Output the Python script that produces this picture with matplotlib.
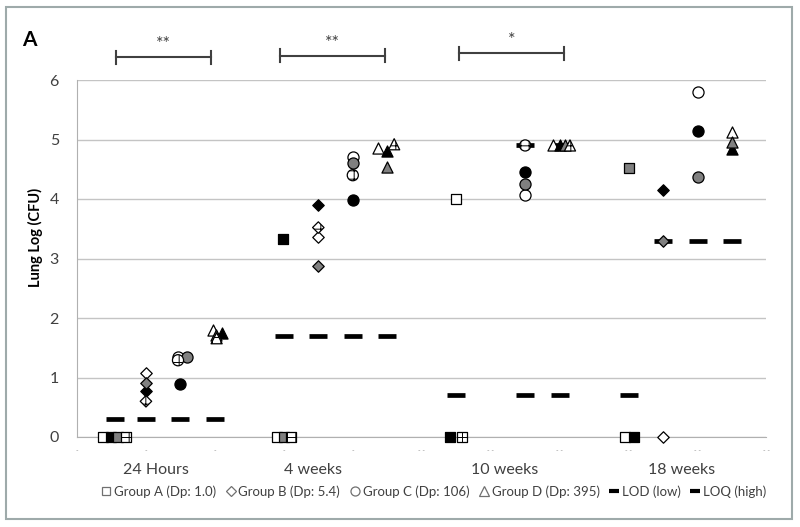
import matplotlib
matplotlib.use("Agg")
import matplotlib.pyplot as plt
from matplotlib.lines import Line2D
from matplotlib.patches import Rectangle

plt.rcParams['font.family'] = ['Lato', 'DejaVu Sans']
plt.rcParams['hatch.linewidth'] = 0.7
plt.rcParams['hatch.color'] = 'black'

# ---------------- data ----------------
time_labels = ["24 Hours", "4 weeks", "10 weeks", "18 weeks"]
time_label_x = [2.3, 6.85, 12.4, 17.55]

group_labels = ["Group A (Dp: 1.0)", "Group B (Dp: 5.4)", "Group C (Dp: 106)", "Group D (Dp: 395)"]
lod_label = "LOD (low)"
loq_label = "LOQ (high)"

# fill codes: w = open, k = black, g = gray, h = hatched
groupA_x = [0.75, 0.98, 1.2, 1.42, 5.8, 5.98, 6.0, 6.2, 11.0, 10.82, 11.17, 15.9, 16.15, 16.0]
groupA_y = [0, 0, 0, 0, 0, 3.32, 0, 0, 4.0, 0, 0, 0, 0, 4.52]
groupA_f = ['w', 'k', 'g', 'h', 'w', 'k', 'g', 'h', 'w', 'k', 'h', 'w', 'k', 'g']

groupB_x = [2.0, 2.0, 2.0, 2.0, 7.0, 7.0, 7.0, 7.0, 17.0, 17.0, 17.0]
groupB_y = [1.08, 0.77, 0.90, 0.60, 3.36, 3.90, 2.87, 3.52, 0.0, 4.15, 3.30]
groupB_f = ['w', 'k', 'g', 'h', 'w', 'k', 'g', 'h', 'w', 'k', 'g']

groupC_x = [2.93, 2.99, 3.19, 2.93, 8.0, 8.0, 8.0, 8.0, 13.0, 13.0, 13.0, 13.0, 18.0, 18.0, 18.0]
groupC_y = [1.35, 0.89, 1.34, 1.29, 4.71, 3.98, 4.60, 4.40, 4.06, 4.46, 4.25, 4.90, 5.79, 5.15, 4.37]
groupC_f = ['w', 'k', 'g', 'h', 'w', 'k', 'g', 'h', 'w', 'k', 'g', 'h', 'w', 'k', 'g']

groupD_x = [3.95, 4.2, 4.03, 4.05, 8.74, 9.0, 9.0, 9.2, 13.8, 14.0, 14.15, 14.3, 19.0, 19.0, 19.0]
groupD_y = [1.80, 1.75, 1.71, 1.66, 4.85, 4.80, 4.53, 4.92, 4.90, 4.90, 4.90, 4.90, 5.13, 4.84, 4.96]
groupD_f = ['w', 'k', 'g', 'h', 'w', 'k', 'g', 'h', 'w', 'k', 'g', 'h', 'w', 'k', 'g']

lod_x = [1.1, 2, 3, 4, 6, 7, 8, 9, 11, 13, 14, 16]
lod_y = [0.3, 0.3, 0.3, 0.3, 1.7, 1.7, 1.7, 1.7, 0.7, 0.7, 0.7, 0.7]
loq_x = [13, 14, 17, 18, 19]
loq_y = [4.9, 4.9, 3.3, 3.3, 3.3]

sig_x1 = [1.14, 5.88, 11.08]
sig_x2 = [3.89, 8.93, 14.13]
sig_y = [6.38, 6.41, 6.45]
sig_text = ["**", "**", "*"]

y_ticks = [0, 1, 2, 3, 4, 5, 6]
x_ticks = [0, 2, 4, 6, 8, 10, 12, 14, 16, 18, 20]

# ---------------- figure ----------------
W, H = 800, 527
fig = plt.figure(figsize=(W / 100, H / 100), dpi=100)
ax = fig.add_axes([77 / W, 1 - 437 / H, (766.5 - 77) / W, (437 - 80) / H])

ax.set_xlim(0, 20)
ax.set_ylim(0, 6)

dark = '#404040'
grid_c = '#c4c4c4'
ax.set_yticks(y_ticks)
ax.set_yticklabels([str(t) for t in y_ticks], fontsize=11.5, color=dark)
ax.yaxis.grid(True, color=grid_c, lw=1.0)
ax.set_axisbelow(True)
ax.set_xticks(x_ticks)
ax.set_xticklabels(['-' if t < 10 else '- -' for t in x_ticks], fontsize=5, color='#9a9a9a')
ax.tick_params(axis='both', length=0)
ax.tick_params(axis='x', pad=7)
ax.tick_params(axis='y', pad=13)
for s in ['top', 'right']:
    ax.spines[s].set_visible(False)
ax.spines['left'].set_color('#b0b0b0')
ax.spines['bottom'].set_color('#b0b0b0')

ax.set_ylabel("Lung Log (CFU)", fontsize=10.5, fontweight='bold', color='black')
ax.yaxis.set_label_coords(-0.05, 0.56)

# limit dashes
ax.plot(lod_x, lod_y, ls='none', marker='_', ms=12.5, mew=3.4, color='black', zorder=3, clip_on=False)
ax.plot(loq_x, loq_y, ls='none', marker='_', ms=12.5, mew=3.4, color='black', zorder=3, clip_on=False)

face = {'w': 'white', 'k': 'black', 'g': '#808080', 'h': 'white'}
order = ['w', 'k', 'g', 'h']
sizes = {'s': 50, 'D': 34, 'o': 64, '^': 64}

def draw_group(xs, ys, fs, marker):
    for code in order:
        px = [x for x, f in zip(xs, fs) if f == code]
        py = [y for y, f in zip(ys, fs) if f == code]
        if not px:
            continue
        ax.scatter(px, py, marker=marker, s=sizes[marker], facecolor=face[code],
                   edgecolor='black', linewidths=0.9, hatch='++' if code == 'h' else None,
                   zorder=4, clip_on=False)

draw_group(groupA_x, groupA_y, groupA_f, 's')
draw_group(groupB_x, groupB_y, groupB_f, 'D')
draw_group(groupC_x, groupC_y, groupC_f, 'o')
draw_group(groupD_x, groupD_y, groupD_f, '^')

# significance brackets
for x1, x2, y, t in zip(sig_x1, sig_x2, sig_y, sig_text):
    ax.plot([x1, x2], [y, y], color=dark, lw=1.5, clip_on=False)
    ax.plot([x1, x1], [y - 0.11, y + 0.11], color=dark, lw=1.5, clip_on=False)
    ax.plot([x2, x2], [y - 0.11, y + 0.11], color=dark, lw=1.5, clip_on=False)
    ax.text((x1 + x2) / 2, y + 0.22, t, ha='center', va='center', fontsize=13, color=dark, clip_on=False)

# time category labels
for lx, lab in zip(time_label_x, time_labels):
    ax.text(lx, -0.56, lab, ha='center', va='center', fontsize=11.5, color=dark, clip_on=False)

# panel label
fig.text(29.5 / W, 1 - 40 / H, "A", fontsize=15, fontweight='bold', ha='center', va='center')

# legend
lc = '#707070'
handles = [
    Line2D([], [], ls='none', marker='s', ms=6, mfc='white', mec=lc, mew=0.9),
    Line2D([], [], ls='none', marker='D', ms=5, mfc='white', mec=lc, mew=0.9),
    Line2D([], [], ls='none', marker='o', ms=6.5, mfc='white', mec=lc, mew=0.9),
    Line2D([], [], ls='none', marker='^', ms=6.5, mfc='white', mec=lc, mew=0.9),
    Line2D([], [], ls='none', marker='_', ms=7, mew=3, color='black'),
    Line2D([], [], ls='none', marker='_', ms=7, mew=3, color='black'),
]
labels = group_labels + [lod_label, loq_label]
leg = fig.legend(handles, labels, loc='center', bbox_to_anchor=(434 / W, 1 - 491.5 / H), ncol=6,
                 frameon=False, fontsize=9.5, handlelength=0.7, handletextpad=0.25,
                 columnspacing=0.75, borderaxespad=0, borderpad=0)
for t in leg.get_texts():
    t.set_color(dark)

# chart border
fig.add_artist(Rectangle((6 / W, 1 - 519 / H), (792 - 6) / W, (519 - 7) / H,
                         transform=fig.transFigure, fill=False, edgecolor='#9eaaaa', lw=1.5))

fig.savefig("out.png", dpi=100)
